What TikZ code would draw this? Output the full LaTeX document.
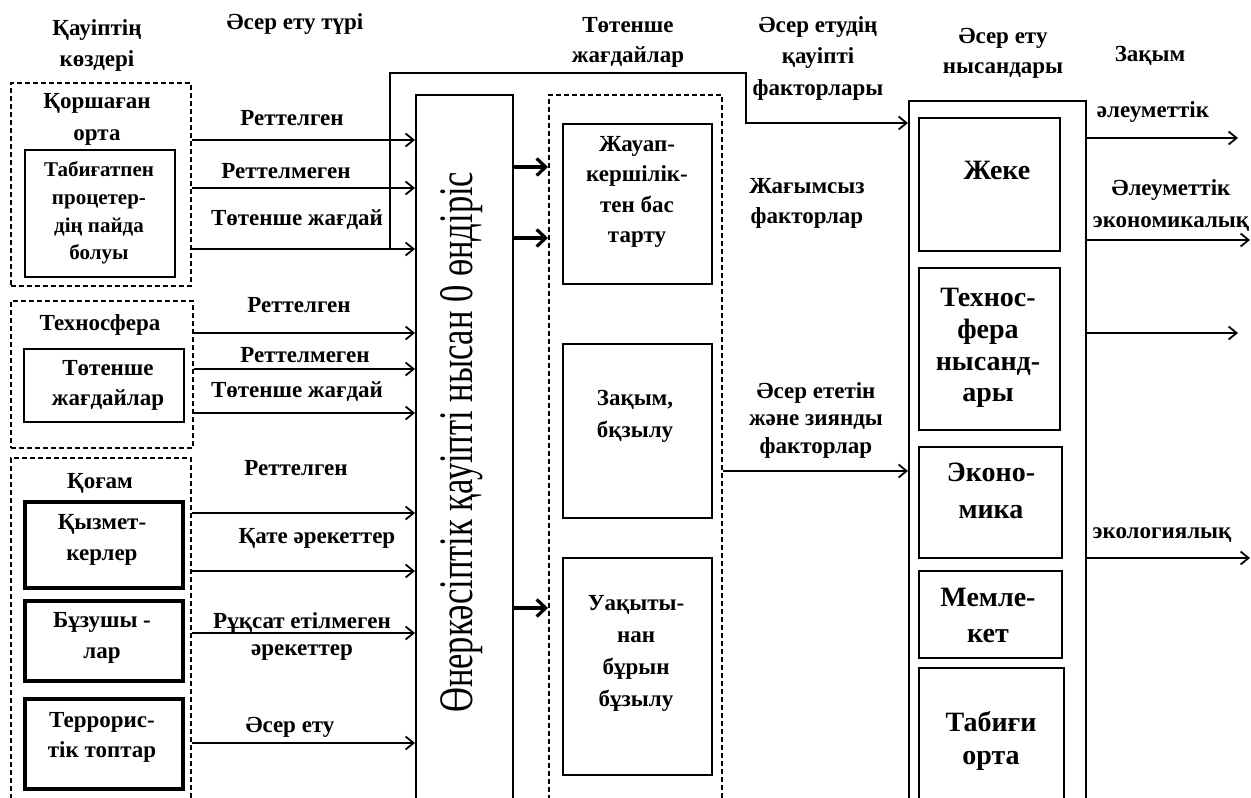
\documentclass[tikz,border=0pt]{standalone}
\usepackage{fontspec}
\setmainfont{Liberation Serif}
\usetikzlibrary{arrows.meta}
\begin{document}
\begin{tikzpicture}[x=1pt,y=-1pt,
  txt/.style={font=\fontsize{23}{30}\selectfont\bfseries, align=center, inner sep=0},
  lsk/.style={font=\fontsize{23}{#1}\selectfont\bfseries},
  bigf/.style={font=\fontsize{28}{#1}\selectfont\bfseries},
  bx/.style={draw, line width=1.8pt, inner sep=0, anchor=north west},
  dbx/.style={bx, dash pattern=on 5pt off 3pt},
  tbx/.style={bx, line width=3.8pt},
  arr/.style={line width=2.2pt, -{Straight Barb[length=8pt,width=13pt,line width=1.8pt]}},
  tarr/.style={line width=4.5pt, -{Straight Barb[length=9pt,width=17pt,line width=3.2pt]}},
]
\useasboundingbox (0,0) rectangle (1251,798);

% headers
\node[txt, lsk=31] (h1) at (97,45) {Қауіптің\\көздері};
\node[txt] (h2) at (295,24) {Әсер ету түрі};
\node[txt] (h3) at (628,42) {Төтенше\\жағдайлар};
\node[txt, lsk=31.5] (h4) at (818,58) {Әсер етудің\\қауіпті\\факторлары};
\node[txt] (h5) at (1003,53) {Әсер ету\\нысандары};
\node[txt] (h6) at (1150,56) {Зақым};

% source 1
\node[dbx, minimum width=180pt, minimum height=203pt] (env) at (10,82) {};
\node[txt, lsk=32] (envT) at (97,119) {Қоршаған\\орта};
\node[bx, minimum width=150pt, minimum height=127pt] (nat) at (24,149) {};
\node[txt, font=\fontsize{21}{27.7}\selectfont\bfseries] (natT) at (99,213) {Табиғатпен\\процетер-\\дің пайда\\болуы};

% source 2
\node[dbx, minimum width=182pt, minimum height=147pt] (tech) at (10,300) {};
\node[txt] (techT) at (100,325) {Техносфера};
\node[bx, minimum width=160pt, minimum height=73pt] (emerg) at (23,348) {};
\node[txt] (emergT) at (108,385) {Төтенше\\жағдайлар};

% source 3
\node[dbx, minimum width=180pt, minimum height=400pt] (soc) at (10,457) {};
\node[txt] (socT) at (100,483) {Қоғам};
\node[tbx, minimum width=158pt, minimum height=86pt] (emp) at (23,500) {};
\node[txt, lsk=31] (empT) at (102,540) {Қызмет-\\керлер};
\node[tbx, minimum width=158pt, minimum height=80pt] (viol) at (23,599) {};
\node[txt, lsk=31] (violT) at (102,638) {Бұзушы -\\лар};
\node[tbx, minimum width=158pt, minimum height=90pt] (terr) at (23,697) {};
\node[txt] (terrT) at (102,737) {Террорис-\\тік топтар};

% production object
\node[bx, minimum width=97pt, minimum height=730pt] (prod) at (415,94) {};
\node[rotate=90, anchor=base west, inner sep=0] (prodT) at (472,713)
  {\resizebox{541pt}{32pt}{\fontsize{30}{30}\selectfont Өнеркәсіптік қауіпті нысан 0 өндіріс}};

% situations
\node[dbx, minimum width=173pt, minimum height=730pt] (sit) at (548,94) {};
\draw[tarr] (prod.east |- 0,167) -- (sit.west |- 0,167);
\draw[tarr] (prod.east |- 0,238) -- (sit.west |- 0,238);
\draw[tarr] (prod.east |- 0,608) -- (sit.west |- 0,608);
\node[bx, minimum width=149pt, minimum height=160pt] (resp) at (562,123) {};
\node[txt, lsk=30.5] (respT) at (637,192) {Жауап-\\кершілік-\\тен бас\\тарту};
\node[bx, minimum width=149pt, minimum height=174pt] (dmg) at (562,343) {};
\node[txt, lsk=32] (dmgT) at (635,416) {Зақым,\\бқзылу};
\node[bx, minimum width=149pt, minimum height=217pt] (early) at (562,557) {};
\node[txt, lsk=32] (earlyT) at (636,653) {Уақыты-\\нан\\бұрын\\бұзылу};

% arrows into production
\draw[arr] (env.east |- 0,140) -- (prod.west |- 0,140);
\draw[arr] (env.east |- 0,188) -- (prod.west |- 0,188);
\draw[arr] (env.east |- 0,249) -- (prod.west |- 0,249);
\node[txt] (l1) at (292,118) {Реттелген};
\node[txt] (l2) at (286,171) {Реттелмеген};
\node[txt] (l3) at (297,220) {Төтенше жағдай};

\draw[arr] (tech.east |- 0,333) -- (prod.west |- 0,333);
\draw[arr] (tech.east |- 0,369) -- (prod.west |- 0,369);
\draw[arr] (tech.east |- 0,413) -- (prod.west |- 0,413);
\node[txt] (l4) at (299,305) {Реттелген};
\node[txt] (l5) at (305,355) {Реттелмеген};
\node[txt] (l6) at (297,392) {Төтенше жағдай};

\draw[arr] (soc.east |- 0,513) -- (prod.west |- 0,513);
\draw[arr] (soc.east |- 0,571) -- (prod.west |- 0,571);
\draw[arr] (soc.east |- 0,633) -- (prod.west |- 0,633);
\draw[arr] (soc.east |- 0,743) -- (prod.west |- 0,743);
\node[txt] (l7) at (296,468) {Реттелген};
\node[txt] (l8) at (317,538) {Қате әрекеттер};
\node[txt] (l9) at (302,623) {Рұқсат етілмеген};
\node[txt] (l10) at (302,653) {әрекеттер};
\node[txt] (l11) at (290,727) {Әсер ету};

% factors
\node[txt] (neg) at (807,203) {Жағымсыз\\факторлар};
\node[txt, lsk=27.5] (harm) at (816,420) {Әсер ететін\\және зиянды\\факторлар};

% objects
\node[bx, line width=2.2pt, minimum width=177pt, minimum height=730pt] (obj) at (908,100) {};
\node[bx, minimum width=141pt, minimum height=133pt] (pers) at (918,117) {};
\node[txt, bigf=30] (persT) at (997,170) {Жеке};
\node[bx, minimum width=141pt, minimum height=162pt] (tobj) at (918,267) {};
\node[txt, bigf=31.7] (tobjT) at (988,348) {Технос-\\фера\\нысанд-\\ары};
\node[bx, minimum width=143pt, minimum height=111pt] (econ) at (918,446) {};
\node[txt, bigf=37] (econT) at (991,491) {Эконо-\\мика};
\node[bx, minimum width=143pt, minimum height=87pt] (state) at (918,570) {};
\node[txt, bigf=36] (stateT) at (988,615) {Мемле-\\кет};
\node[bx, minimum width=145pt, minimum height=200pt] (nature) at (918,667) {};
\node[txt, bigf=33] (natureT) at (991,741) {Табиғи\\орта};

% branch of emergency line
\coordinate (br) at (390,249);
\coordinate (k1) at (746,73);
\draw[arr] (br) |- (k1) |- (obj.west |- 0,123);
\draw[arr] (sit.east |- 0,471) -- (obj.west |- 0,471);

% damage outputs
\coordinate (o1) at (1238,138);
\coordinate (o2) at (1250,240);
\coordinate (o3) at (1238,333);
\coordinate (o4) at (1250,558);
\draw[arr] (obj.east |- o1) -- (o1);
\draw[arr] (obj.east |- o2) -- (o2);
\draw[arr] (obj.east |- o3) -- (o3);
\draw[arr] (obj.east |- o4) -- (o4);
\node[txt] (d1) at (1153,112) {әлеуметтік};
\node[txt, lsk=32] (d2) at (1171,206) {Әлеуметтік\\экономикалық};
\node[txt] (d3) at (1162,535) {экологиялық};
\end{tikzpicture}
\end{document}
